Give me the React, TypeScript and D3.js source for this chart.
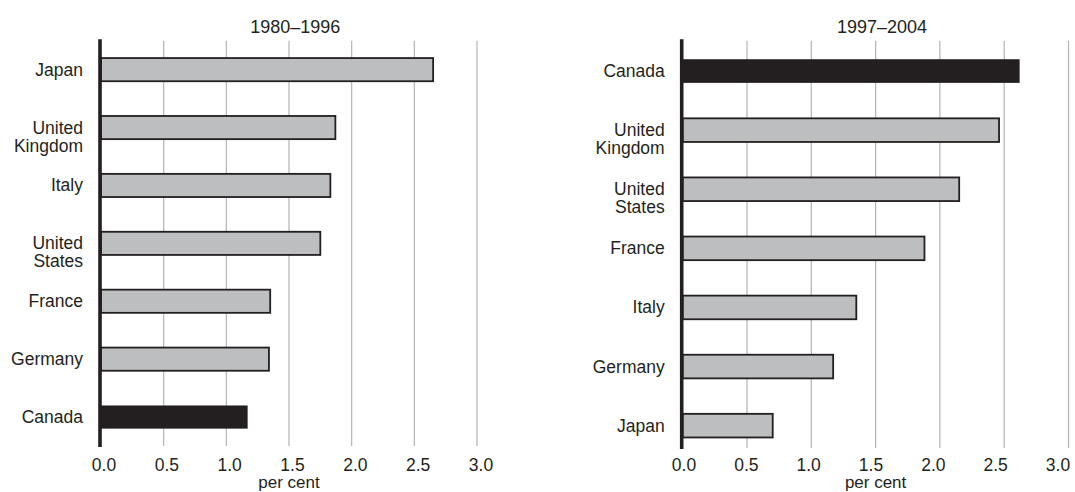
import React from 'react';
import * as d3 from 'd3';

// 1980-1996 panel
const leftCategories = ['Japan', 'United Kingdom', 'Italy', 'United States', 'France', 'Germany', 'Canada'];
const leftValues = [2.65, 1.87, 1.83, 1.75, 1.35, 1.34, 1.17];

// 1997-2004 panel
const rightCategories = ['Canada', 'United Kingdom', 'United States', 'France', 'Italy', 'Germany', 'Japan'];
const rightValues = [2.62, 2.46, 2.15, 1.88, 1.35, 1.17, 0.7];

const xTicks = [0, 0.5, 1, 1.5, 2, 2.5, 3];
const highlight = 'Canada';

const INK = '#231f20';
const FONT = '"Liberation Sans", Arial, Helvetica, sans-serif';

type PanelProps = {
    title: string;
    categories: string[];
    values: number[];
    x0: number;
    x1: number;
    labelRange: [number, number];
    bandTop: number;
    bandBottom: number;
    gridBottom: number;
};

function Panel({title, categories, values, x0, x1, labelRange, bandTop, bandBottom, gridBottom}: PanelProps) {
    const x = d3.scaleLinear().domain([0, 3]).range([x0, x1]);
    // tick labels in the original sit slightly off the gridlines
    const xl = d3.scaleLinear().domain([0, 3]).range(labelRange);
    const y = d3.scaleBand<string>()
        .domain(categories)
        .range([bandTop, bandBottom])
        .paddingInner(0.6)
        .paddingOuter(0.3);
    const fmt = d3.format('.1f');
    const gridTop = 40.7;

    return (
        <g fontFamily={FONT} fill={INK}>
            <text x={x(1.55)} y={33} fontSize={18} textAnchor="middle">{title}</text>
            {xTicks.filter(t => t > 0).map(t => (
                <line key={t} x1={x(t)} x2={x(t)} y1={gridTop} y2={gridBottom}
                      stroke="#b1b3b6" strokeWidth={1.2}/>
            ))}
            {categories.map((c, i) => {
                const isHi = c === highlight;
                return (
                    <rect key={c} x={x(0)} y={y(c)} width={x(values[i]) - x(0)} height={y.bandwidth()}
                          fill={isHi ? INK : '#bcbec0'} stroke={INK} strokeWidth={isHi ? 0 : 1.8}/>
                );
            })}
            <line x1={x(0) - 1} x2={x(0) - 1} y1={39.3} y2={gridBottom + 1} stroke={INK} strokeWidth={3.6}/>
            {categories.map(c => {
                const lines = c.split(' ');
                const cy = (y(c) as number) + y.bandwidth() / 2;
                return (
                    <text key={c} x={x(0) - 18} y={cy} fontSize={17.5} textAnchor="end" dominantBaseline="central">
                        {lines.map((l, j) => (
                            <tspan key={j} x={x(0) - 18} dy={j === 0 ? 0 : 18}>{l}</tspan>
                        ))}
                    </text>
                );
            })}
            {xTicks.map(t => (
                <text key={t} x={xl(t)} y={471} fontSize={17.5} textAnchor="middle">{fmt(t)}</text>
            ))}
            <text x={x(1.5)} y={488} fontSize={17} textAnchor="middle">per cent</text>
        </g>
    );
}

export default function App() {
    return (
        <svg width={1075} height={492} style={{position: 'absolute', left: 0, top: 0, background: '#fff'}}>
            <Panel title="1980–1996" categories={leftCategories} values={leftValues}
                   x0={101} x1={477} labelRange={[104, 481]}
                   bandTop={40.7} bandBottom={446} gridBottom={446}/>
            <Panel title="1997–2004" categories={rightCategories} values={rightValues}
                   x0={682.7} x1={1068.5} labelRange={[684, 1058]}
                   bandTop={41.5} bandBottom={455.2} gridBottom={448}/>
        </svg>
    );
}
